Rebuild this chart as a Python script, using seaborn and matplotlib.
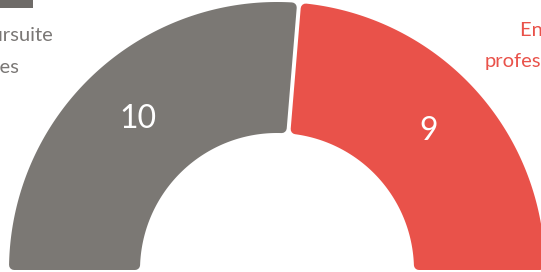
import numpy as np
import matplotlib
matplotlib.use("Agg")
import matplotlib.pyplot as plt
from matplotlib.patches import Polygon, Rectangle
import seaborn as sns

# ── Data ─────────────────────────────────────────────
categories = ["Poursuite d'études", "Entrée dans la vie professionnelle"]
counts = [10, 9]
colors = ["#7B7874", "#E9524A"]

sns.set_theme(style="white")
plt.rcParams["font.family"] = ["Lato", "DejaVu Sans"]

W, H = 541, 272
fig = plt.figure(figsize=(W / 100, H / 100), dpi=100)
ax = fig.add_axes([0, 0, 1, 1])
ax.set_xlim(0, W)
ax.set_ylim(0, H)
ax.set_aspect("equal")
ax.axis("off")

# geometry of the half donut (pixel units)
cx, cy = 277, 2
r_out, r_in = 268, 137
corner = 5      # corner rounding
gap = 2         # half the white gap between segments


def seg_polygon(a1, a2, s1, s2):
    """Wedge from angle a1 down to a2 (deg), edges offset by s1/s2."""
    def bound(rho):
        lo = np.radians(a2) + np.arcsin(s2 / rho)
        hi = np.radians(a1) - np.arcsin(s1 / rho)
        return lo, hi
    ro, ri = r_out - corner, r_in + corner
    lo_o, hi_o = bound(ro)
    lo_i, hi_i = bound(ri)
    t_o = np.linspace(hi_o, lo_o, 120)
    t_i = np.linspace(lo_i, hi_i, 80)
    xs = np.concatenate([cx + ro * np.cos(t_o), cx + ri * np.cos(t_i)])
    ys = np.concatenate([cy + ro * np.sin(t_o), cy + ri * np.sin(t_i)])
    return np.column_stack([xs, ys])


total = sum(counts)
start = 180.0
for i, (cat, n, col) in enumerate(zip(categories, counts, colors)):
    span = 180.0 * n / total
    end = start - span
    s1 = corner if i == 0 else corner + gap
    s2 = corner if i == len(counts) - 1 else corner + gap
    poly = Polygon(seg_polygon(start, end, s1, s2), closed=True,
                   facecolor=col, edgecolor=col,
                   linewidth=2 * corner * 0.72, joinstyle="round")
    ax.add_patch(poly)
    mid = np.radians((start + end) / 2)
    rm = (r_out + r_in) / 2 + 3
    ax.text(cx + rm * np.cos(mid), cy + rm * np.sin(mid), str(n),
            color="white", fontsize=23, ha="center", va="center")
    start = end

# side labels (partly outside the frame, as in the original crop)
ax.text(53, H - 41, "Poursuite", color="#7A7775", fontsize=14.5,
        ha="right", va="baseline")
ax.text(19, H - 73, "d'études", color="#7A7775", fontsize=14.5,
        ha="right", va="baseline")
ax.text(520, H - 36, "Entrée dans la vie", color="#E9524A", fontsize=14.5,
        ha="left", va="baseline")
ax.text(485, H - 67, "professionnelle", color="#E9524A", fontsize=14.5,
        ha="left", va="baseline")

# cut-off heading bar at top left
ax.add_patch(Rectangle((0, H - 8), 33, 8, color="#6E6B68", lw=0))

fig.savefig("out.png", dpi=100)
